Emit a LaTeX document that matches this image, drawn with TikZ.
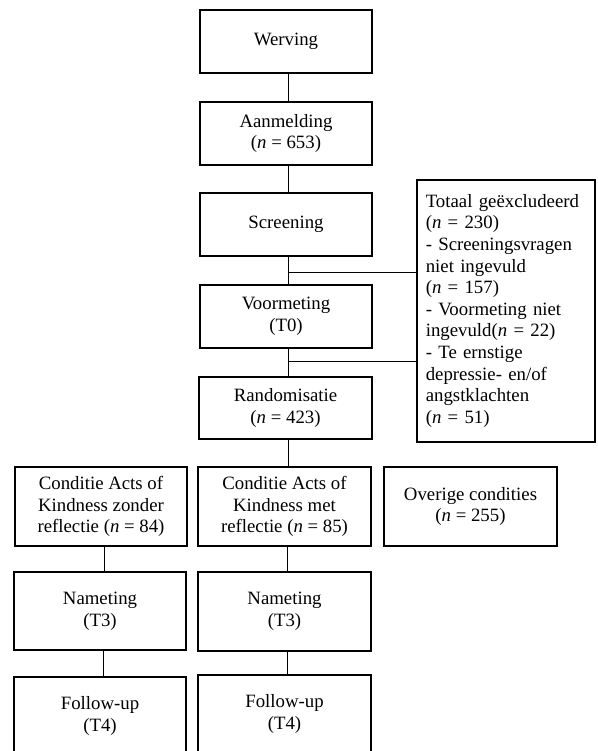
\documentclass[tikz,border=0pt]{standalone}
\usepackage{fontspec}
\setmainfont{Liberation Serif}
\newcommand\flowbox[6]{\node[box, minimum width={#4-#2}, minimum height={#5-#3}] (#1) at ({(#2+#4)/2},{(#3+#5)/2}) {#6};}
\begin{document}
\begin{tikzpicture}[x=1pt,y=-1pt,
  box/.style={draw, line width=1.6pt, align=center, inner sep=2pt, font=\fontsize{18.8}{21.6}\selectfont},
  conn/.style={draw, line width=0.9pt}]
\fill[white] (0,0) rectangle (597,751);
\useasboundingbox (0,0) rectangle (597,751);
\clip (0,0) rectangle (597,751);
% main column
\flowbox{werv}{200}{10}{372}{73}{Werving}
\flowbox{aanm}{200}{102}{372}{165}{Aanmelding\\(\textit{n} = 653)}
\flowbox{scr}{200}{193}{372}{256}{Screening}
\flowbox{voor}{200}{285}{372}{348}{Voormeting\\(T0)}
\flowbox{rand}{199}{377}{372}{439}{Randomisatie\\(\textit{n} = 423)}
% exclusion box
\node[draw, line width=1.6pt, anchor=north west, align=left, inner xsep=9pt, inner ysep=0pt,
  text width=160pt, minimum height=262pt, font=\fontsize{18.8}{21.6}\selectfont] (excl) at (416,179)
  {Totaal geëxcludeerd\\(\textit{n} = 230)\\- Screeningsvragen\\niet ingevuld\\(\textit{n} = 157)\\- Voormeting niet\\ingevuld(\textit{n} = 22)\\- Te ernstige\\depressie- en/of\\angstklachten\\(\textit{n} = 51)};
% conditions
\flowbox{c1}{15}{467}{187}{546}{Conditie Acts of\\Kindness zonder\\reflectie (\textit{n} = 84)}
\flowbox{c2}{198}{467}{371}{546}{Conditie Acts of\\Kindness met\\reflectie (\textit{n} = 85)}
\flowbox{ov}{384}{467}{557}{546}{Overige condities\\(\textit{n} = 255)}
\flowbox{n1}{14}{572}{186}{650}{Nameting\\(T3)}
\flowbox{n2}{198}{572}{371}{651}{Nameting\\(T3)}
\flowbox{f1}{14}{677}{186}{755}{Follow-up\\(T4)}
\flowbox{f2}{198}{675}{371}{753}{Follow-up\\(T4)}
% connectors (vertical)
\draw[conn] ([xshift=2.5pt]werv.south) -- ([xshift=2.5pt]werv.south |- aanm.north);
\draw[conn] ([xshift=2.5pt]aanm.south) -- ([xshift=2.5pt]aanm.south |- scr.north);
\draw[conn] ([xshift=2.5pt]scr.south) -- ([xshift=2.5pt]scr.south |- voor.north);
\draw[conn] ([xshift=2.5pt]voor.south) -- ([xshift=2.5pt]voor.south |- rand.north);
\draw[conn] ([xshift=3pt]rand.south) -- ([xshift=3pt]rand.south |- c2.north);
\draw[conn] ([xshift=3pt]c1.south) -- ([xshift=3pt]c1.south |- n1.north);
\draw[conn] ([xshift=3pt]n1.south) -- ([xshift=3pt]n1.south |- f1.north);
\draw[conn] ([xshift=3pt]c2.south) -- ([xshift=3pt]c2.south |- n2.north);
\draw[conn] ([xshift=3pt]n2.south) -- ([xshift=3pt]n2.south |- f2.north);
\coordinate (j1) at (288,272);
\coordinate (j2) at (288,361);
\draw[conn] (j1) -- (excl.west |- j1);
\draw[conn] (j2) -- (excl.west |- j2);
\end{tikzpicture}
\end{document}
